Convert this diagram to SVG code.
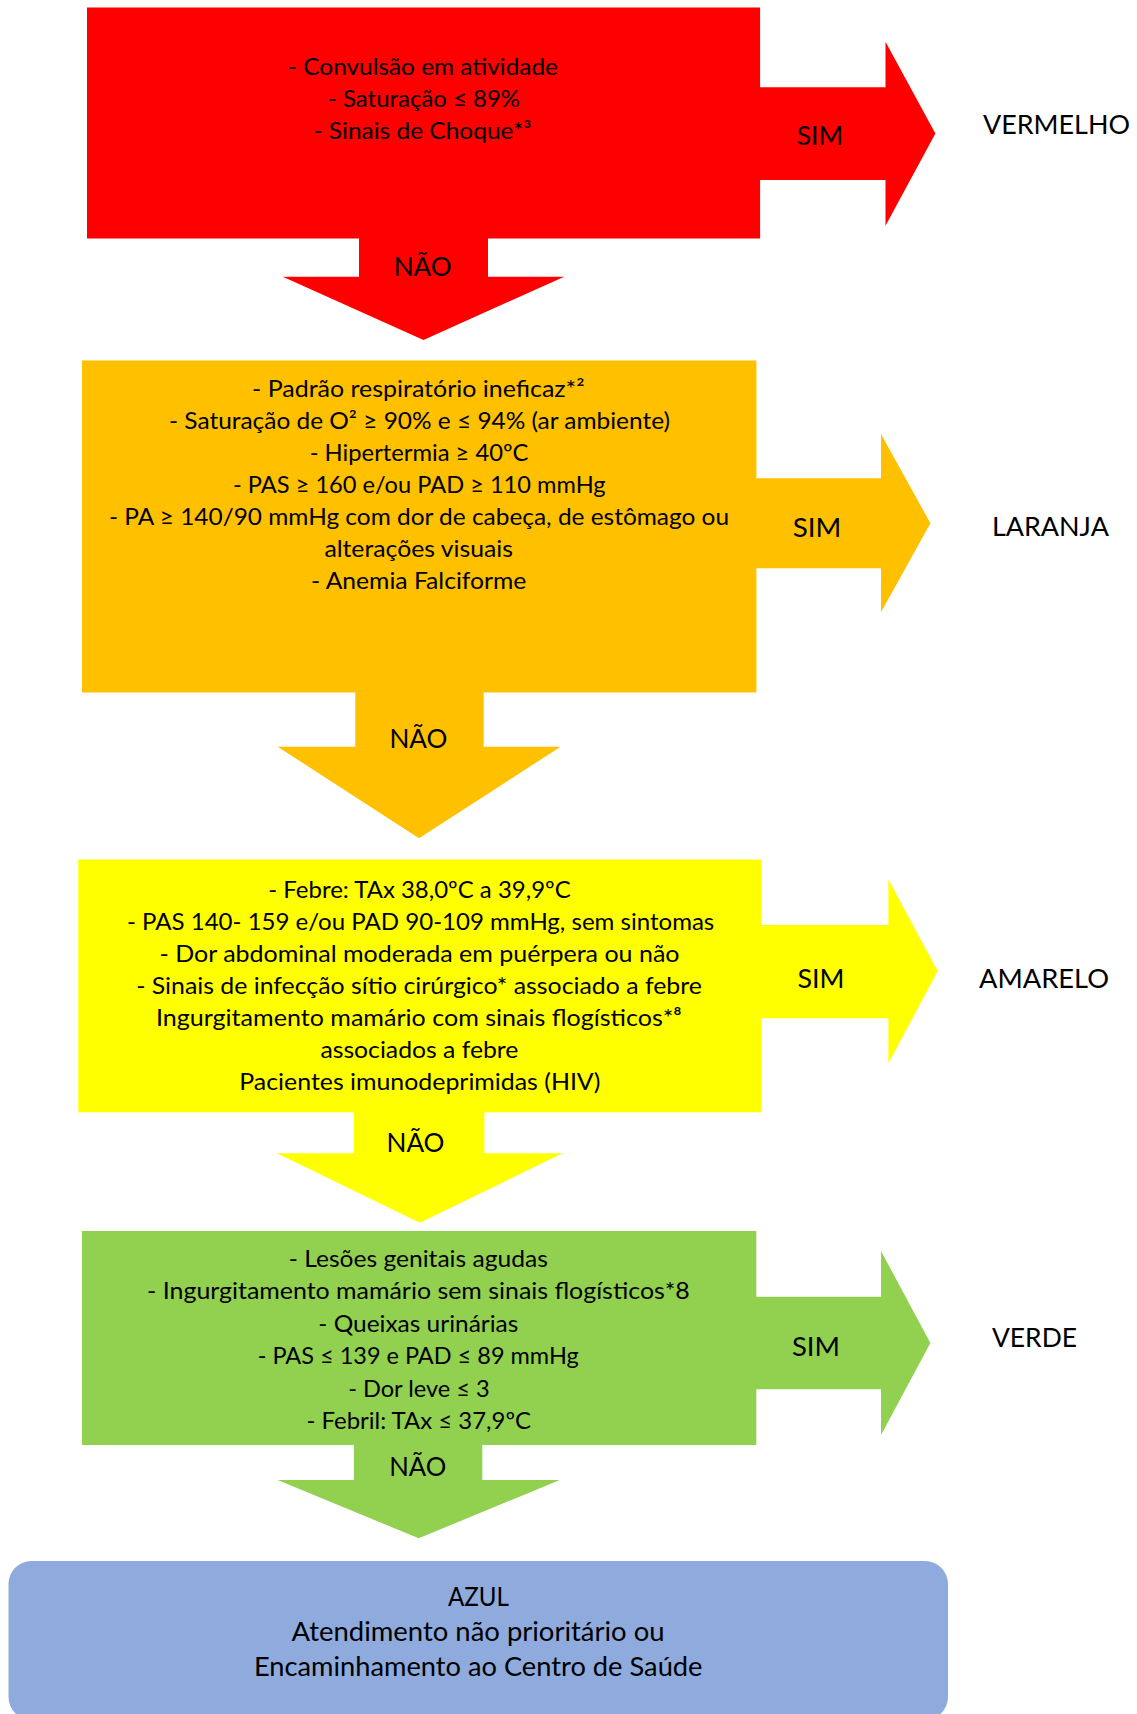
<svg xmlns="http://www.w3.org/2000/svg" width="1137" height="1714" viewBox="0 0 1137 1714">
  <style>
    text { font-family: Lato, "Open Sans", "Liberation Sans", sans-serif; fill: #000; text-anchor: middle; }
    .t { font-size: 24px; }
    .lbl { font-size: 26.5px; }
    .red { fill: #FF0000; }
    .orange { fill: #FFC000; }
    .yellow { fill: #FFFF00; }
    .green { fill: #92D050; }
    .blue { fill: #8FAADC; }
  </style>

  <!-- Connectors: SIM arrows to the right, NÃO arrows downward -->
  <g id="connectors">
    <!-- red level -->
    <g id="sim-vermelho">
      <path class="red" d="M755 87.3 H885.5 V41.7 L935.4 133.5 L885.5 225.7 V180 H755 Z"/>
      <text class="lbl" x="820" y="145" textLength="46.6" lengthAdjust="spacingAndGlyphs">SIM</text>
    </g>
    <g id="nao-1">
      <path class="red" d="M359 234 H488 V276.7 H564.2 L423.5 340 L282.8 276.7 H359 Z"/>
      <text class="lbl" x="422.7" y="275.5" textLength="58" lengthAdjust="spacingAndGlyphs">NÃO</text>
    </g>
    <!-- orange level -->
    <g id="sim-laranja">
      <path class="orange" d="M750 478.3 H881 V434 L930.4 523.2 L881 612.3 V568.3 H750 Z"/>
      <text class="lbl" x="817" y="536.5" textLength="48.6" lengthAdjust="spacingAndGlyphs">SIM</text>
    </g>
    <g id="nao-2">
      <path class="orange" d="M355.3 688 H483.7 V746.7 H560.6 L419 838.3 L277.7 746.7 H355.3 Z"/>
      <text class="lbl" x="418.4" y="747.5" textLength="58" lengthAdjust="spacingAndGlyphs">NÃO</text>
    </g>
    <!-- yellow level -->
    <g id="sim-amarelo">
      <path class="yellow" d="M755 925 H888.4 V879.3 L937.6 971.3 L888.4 1063.3 V1018.3 H755 Z"/>
      <text class="lbl" x="821" y="988" textLength="47" lengthAdjust="spacingAndGlyphs">SIM</text>
    </g>
    <g id="nao-3">
      <path class="yellow" d="M353.9 1108 H484.4 V1153.3 H562.7 L419.8 1222.7 L277 1153.3 H353.9 Z"/>
      <text class="lbl" x="415.5" y="1152" textLength="58" lengthAdjust="spacingAndGlyphs">NÃO</text>
    </g>
    <!-- green level -->
    <g id="sim-verde">
      <path class="green" d="M750 1296.7 H881 V1251 L930.4 1343 L881 1435 V1389.3 H750 Z"/>
      <text class="lbl" x="816" y="1356" textLength="48" lengthAdjust="spacingAndGlyphs">SIM</text>
    </g>
    <g id="nao-4">
      <path class="green" d="M353.9 1440 H482.3 V1480 H559.8 L418.7 1538.3 L277.6 1480 H353.9 Z"/>
      <text class="lbl" x="417.7" y="1476" textLength="57" lengthAdjust="spacingAndGlyphs">NÃO</text>
    </g>
  </g>

  <!-- Criteria boxes -->
  <g id="box-vermelho">
    <rect class="red" x="87" y="7.5" width="673.1" height="231"/>
    <text class="t" x="423" y="74.5" textLength="270" lengthAdjust="spacingAndGlyphs">- Convulsão em atividade</text>
    <text class="t" x="424" y="106.8" textLength="192" lengthAdjust="spacingAndGlyphs">- Saturação ≤ 89%</text>
    <text class="t" x="422.5" y="139.1" textLength="218" lengthAdjust="spacingAndGlyphs">- Sinais de Choque*³</text>
  </g>

  <g id="box-laranja">
    <rect class="orange" x="82" y="360.5" width="674.4" height="332"/>
    <text class="t" x="418.3" y="396.5" textLength="332.5" lengthAdjust="spacingAndGlyphs">- Padrão respiratório ineficaz*²</text>
    <text class="t" x="419.5" y="428.5" textLength="501" lengthAdjust="spacingAndGlyphs">- Saturação de O² ≥ 90% e ≤ 94% (ar ambiente)</text>
    <text class="t" x="419.1" y="460.5" textLength="218.8" lengthAdjust="spacingAndGlyphs">- Hipertermia ≥ 40ºC</text>
    <text class="t" x="419.3" y="492.5" textLength="372.6" lengthAdjust="spacingAndGlyphs">- PAS ≥ 160 e/ou PAD ≥ 110 mmHg</text>
    <text class="t" x="419" y="524.5" textLength="620" lengthAdjust="spacingAndGlyphs">- PA ≥ 140/90 mmHg com dor de cabeça, de estômago ou</text>
    <text class="t" x="418.7" y="556.5" textLength="188.6" lengthAdjust="spacingAndGlyphs">alterações visuais</text>
    <text class="t" x="418.7" y="588.5" textLength="215.4" lengthAdjust="spacingAndGlyphs">- Anemia Falciforme</text>
  </g>

  <g id="box-amarelo">
    <rect class="yellow" x="78.3" y="859.5" width="683.1" height="252.8"/>
    <text class="t" x="419.5" y="897.5" textLength="302.4" lengthAdjust="spacingAndGlyphs">- Febre: TAx 38,0ºC a 39,9ºC</text>
    <text class="t" x="420.6" y="929.5" textLength="587.4" lengthAdjust="spacingAndGlyphs">- PAS 140- 159 e/ou PAD 90-109 mmHg, sem sintomas</text>
    <text class="t" x="419.5" y="961.5" textLength="520" lengthAdjust="spacingAndGlyphs">- Dor abdominal moderada em puérpera ou não</text>
    <text class="t" x="419" y="993.5" textLength="565.7" lengthAdjust="spacingAndGlyphs">- Sinais de infecção sítio cirúrgico* associado a febre</text>
    <text class="t" x="418.8" y="1025.5" textLength="525.8" lengthAdjust="spacingAndGlyphs">Ingurgitamento mamário com sinais flogísticos*⁸</text>
    <text class="t" x="419.4" y="1057.5" textLength="198" lengthAdjust="spacingAndGlyphs">associados a febre</text>
    <text class="t" x="419.9" y="1089.5" textLength="361.2" lengthAdjust="spacingAndGlyphs">Pacientes imunodeprimidas (HIV)</text>
  </g>

  <g id="box-verde">
    <rect class="green" x="82" y="1231" width="674.3" height="214"/>
    <text class="t" x="418.3" y="1266.5" textLength="259" lengthAdjust="spacingAndGlyphs">- Lesões genitais agudas</text>
    <text class="t" x="418.4" y="1299" textLength="542.6" lengthAdjust="spacingAndGlyphs">- Ingurgitamento mamário sem sinais flogísticos*8</text>
    <text class="t" x="418.3" y="1331.5" textLength="200" lengthAdjust="spacingAndGlyphs">- Queixas urinárias</text>
    <text class="t" x="418.2" y="1364" textLength="321" lengthAdjust="spacingAndGlyphs">- PAS ≤ 139 e PAD ≤ 89 mmHg</text>
    <text class="t" x="418.9" y="1396.5" textLength="141.5" lengthAdjust="spacingAndGlyphs">- Dor leve ≤ 3</text>
    <text class="t" x="418.8" y="1429" textLength="224.5" lengthAdjust="spacingAndGlyphs">- Febril: TAx ≤ 37,9ºC</text>
  </g>

  <g id="box-azul">
    <rect class="blue" x="8.5" y="1561" width="939.5" height="159" rx="23" ry="23"/>
    <text class="lbl" x="478.5" y="1606" textLength="61" lengthAdjust="spacingAndGlyphs">AZUL</text>
    <text class="lbl" x="478" y="1641" textLength="373" lengthAdjust="spacingAndGlyphs">Atendimento não prioritário ou</text>
    <text class="lbl" x="478.2" y="1676" textLength="448.6" lengthAdjust="spacingAndGlyphs">Encaminhamento ao Centro de Saúde</text>
  </g>

  <!-- Priority outcomes -->
  <g id="out-vermelho"><text class="lbl" x="1056.5" y="134.3" textLength="147" lengthAdjust="spacingAndGlyphs">VERMELHO</text></g>
  <g id="out-laranja"><text class="lbl" x="1050.4" y="536" textLength="117" lengthAdjust="spacingAndGlyphs">LARANJA</text></g>
  <g id="out-amarelo"><text class="lbl" x="1044" y="988" textLength="130" lengthAdjust="spacingAndGlyphs">AMARELO</text></g>
  <g id="out-verde"><text class="lbl" x="1034.5" y="1347" textLength="85" lengthAdjust="spacingAndGlyphs">VERDE</text></g>
</svg>
